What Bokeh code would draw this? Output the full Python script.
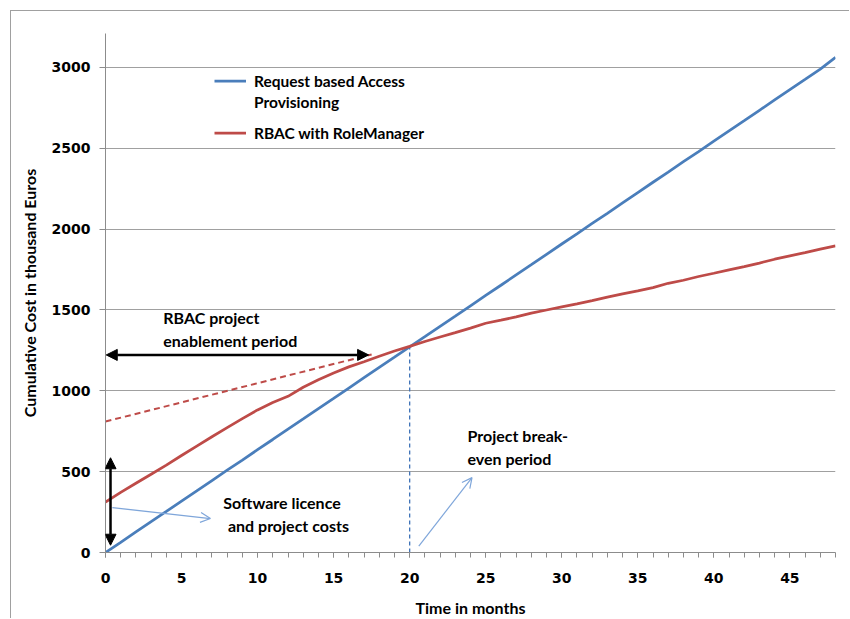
from bokeh.plotting import figure
from bokeh.models import (Range1d, FixedTicker, Legend, LegendItem, Label, Arrow,
                          NormalHead, OpenHead)
from bokeh.embed import file_html
from bokeh.resources import INLINE

# ---------------- data ----------------
months = list(range(0, 49))
request_based = [0, 63, 127, 191, 254, 318, 381, 445, 509, 572,
                 636, 699, 763, 826, 890, 953, 1017, 1081, 1145, 1208,
                 1272, 1335, 1399, 1462, 1526, 1590, 1653, 1717, 1780, 1844,
                 1908, 1971, 2035, 2098, 2162, 2226, 2290, 2353, 2417, 2480,
                 2544, 2608, 2671, 2735, 2799, 2863, 2926, 2990, 3062]
rbac = [312, 372, 428, 484, 540, 600, 658, 716, 772, 828,
        882, 928, 966, 1022, 1068, 1110, 1148, 1180, 1214, 1246,
        1275, 1305, 1333, 1360, 1388, 1418, 1437, 1457, 1480, 1500,
        1519, 1538, 1558, 1580, 1600, 1618, 1638, 1665, 1684, 1707,
        1727, 1748, 1768, 1790, 1814, 1835, 1855, 1876, 1897]
series_names = ["Request based Access", "Provisioning", "RBAC with RoleManager"]
y_ticks = [0, 500, 1000, 1500, 2000, 2500, 3000]
x_ticks = [0, 5, 10, 15, 20, 25, 30, 35, 40, 45]
x_minor = list(range(0, 49))
breakeven_month = [20]
breakeven_cost = [1275]
extrap_months = [0, 17.5]
extrap_cost = [810, 1225]

BLUE = "#4A7EBB"
RED = "#BE4B48"
LIGHTBLUE = "#7FA6DA"
GRID = "#a0a0a0"
FONT = "Lato"

p = figure(width=839, height=608, x_range=Range1d(0, 48), y_range=Range1d(0, 3210),
           output_backend="svg", toolbar_location=None,
           min_border_left=94, min_border_right=15, min_border_top=22, min_border_bottom=66)
p.margin = (11, 0, 0, 11)
p.styles = {"box-shadow": "-1px -1px 0px 0px #a0a0a0"}
p.outline_line_color = None
p.background_fill_color = "white"
p.border_fill_color = "white"

# axes
p.xaxis.ticker = FixedTicker(ticks=x_ticks, minor_ticks=x_minor)
p.yaxis.ticker = FixedTicker(ticks=y_ticks, minor_ticks=[])
for ax in (p.xaxis[0], p.yaxis[0]):
    ax.axis_line_color = "#8c8c8c"
    ax.major_tick_line_color = "#8c8c8c"
    ax.minor_tick_line_color = "#8c8c8c"
    ax.major_tick_in = 0
    ax.minor_tick_in = 0
    ax.major_label_text_font = "DejaVu Sans"
    ax.major_label_text_font_style = "bold"
    ax.major_label_text_font_size = "14px"
    ax.major_label_text_color = "black"
    ax.axis_label_text_font = FONT
    ax.axis_label_text_font_style = "bold"
    ax.axis_label_text_font_size = "16px"
    ax.axis_label_text_color = "black"
p.xaxis.major_tick_out = 5
p.xaxis.minor_tick_out = 5
p.xaxis.major_label_standoff = 15
p.xaxis.axis_label = "Time in months"
p.xaxis.axis_label_standoff = 12
p.yaxis.major_tick_out = 6
p.yaxis.minor_tick_out = 0
p.yaxis.major_label_standoff = 9
p.yaxis.axis_label = "Cumulative Cost in thousand Euros"
p.yaxis.axis_label_standoff = 10

p.xgrid.visible = False
p.ygrid.ticker = FixedTicker(ticks=y_ticks[1:])
p.ygrid.grid_line_color = GRID
p.ygrid.grid_line_width = 1

# guides
p.segment(x0=breakeven_month, y0=[0], x1=breakeven_month, y1=breakeven_cost,
          line_color="#3F73B8", line_width=1.3, line_dash="4 3")
p.line(extrap_months, extrap_cost, line_color=RED, line_width=2, line_dash="6 4")

# series
blue_r = p.line(months, request_based, line_color=BLUE, line_width=2.75)
red_r = p.line(months, rbac, line_color=RED, line_width=2.75)
dummy_r = p.line(x=[], y=[], line_alpha=0)

legend_style = dict(padding=0, spacing=0, margin=0, glyph_width=32, glyph_height=21,
                    label_height=21, label_standoff=8,
                    background_fill_alpha=0, border_line_alpha=0,
                    label_text_font=FONT, label_text_font_style="bold",
                    label_text_font_size="15.5px", label_text_color="black")
leg1 = Legend(items=[LegendItem(label=series_names[0], renderers=[blue_r]),
                     LegendItem(label=series_names[1], renderers=[dummy_r])],
              location=(109, 440), **legend_style)
leg2 = Legend(items=[LegendItem(label=series_names[2], renderers=[red_r])],
              location=(109, 409), **legend_style)
p.add_layout(leg1)
p.add_layout(leg2)

# arrows
def black_head():
    return NormalHead(size=11, fill_color="black", line_color="black")

p.add_layout(Arrow(start=black_head(), end=black_head(), x_start=0.05, y_start=1222,
                   x_end=17.3, y_end=1222, line_color="black", line_width=2.5))
p.add_layout(Arrow(start=black_head(), end=black_head(), x_start=0.33, y_start=586,
                   x_end=0.33, y_end=45, line_color="black", line_width=2.5))
p.add_layout(Arrow(end=OpenHead(size=10, line_color=LIGHTBLUE, line_width=1.2),
                   x_start=0.45, y_start=278, x_end=6.9, y_end=210,
                   line_color=LIGHTBLUE, line_width=1.2))
p.add_layout(Arrow(end=OpenHead(size=10, line_color=LIGHTBLUE, line_width=1.2),
                   x_start=20.6, y_start=40, x_end=24.1, y_end=463,
                   line_color=LIGHTBLUE, line_width=1.2))

# annotation texts
notes = [("RBAC project", 3.8, 1510), ("enablement period", 3.8, 1370),
         ("Software licence", 7.75, 367), ("and project costs", 8.05, 227),
         ("Project break-", 23.8, 780), ("even period", 23.8, 643)]
for txt, nx, ny in notes:
    p.add_layout(Label(x=nx, y=ny, text=txt, text_font=FONT, text_font_style="bold",
                       text_font_size="16px", text_color="black", text_baseline="top"))

open("out.html", "w").write(file_html(p, INLINE))
